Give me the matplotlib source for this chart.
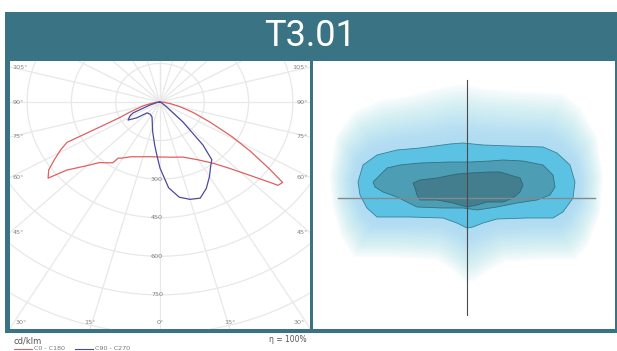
import numpy as np
import matplotlib
matplotlib.use('Agg')
import matplotlib.pyplot as plt
from matplotlib.patches import Rectangle, Polygon
from matplotlib.lines import Line2D

# ---------------- data ----------------
title = "T3.01"
unit_label = "cd/klm"
efficiency_label = "\u03b7 = 100%"
legend_labels = ["C0 - C180", "C90 - C270"]

# polar intensity curves (gamma in degrees, intensity in cd/klm)
c0_gamma = [0, 10, 20, 30, 37, 42, 47, 51, 53, 55, 58, 61, 65, 70, 75, 80, 85, 90]
c0_int = [214, 218, 228, 260, 298, 345, 420, 515, 520, 450, 360, 280, 190, 120, 70, 35, 15, 5]

c180_gamma = [0, 10, 18, 25, 31, 33, 34, 38, 41, 45, 50, 52, 55, 58, 61, 63.5, 64.5, 66, 69, 75, 80, 85, 90]
c180_int = [214, 216, 224, 235, 255, 260, 285, 300, 312, 350, 412, 481, 460, 421, 385, 352, 225, 150, 109, 60, 30, 12, 3]

c90_gamma = [0, 5, 10, 15, 20, 25, 30, 35, 38, 41, 45, 50, 55, 60, 90]
c90_int = [257, 335, 376, 392, 398, 371, 335, 300, 285, 222, 110, 30, 10, 3, 0]

c270_gamma = [0, 3, 6, 12, 25, 35, 46, 52, 57, 62, 65, 71, 80, 90]
c270_int = [257, 206, 170, 119, 64, 58, 61, 100, 129, 115, 101, 36, 10, 0]

radial_ticks = [300, 450, 600, 750]
edge_angles = [105, 90, 75, 60, 45]
bottom_angles = [-30, -15, 0, 15, 30]

# isolux contours (metres, x to the right, y up)
outer_x = [-10.9, -10.4, -9.0, -7.0, -4.7, -1.7, -0.4, 1.6, 4.3, 7.6, 9.0, 10.3, 10.8, 10.6, 9.6, 8.6,
           6.0, 3.0, 1.6, 0.6, 0.0, -1.0, -2.4, -5.7, -9.0, -10.0, -10.7]
outer_y = [1.6, 3.3, 4.3, 4.8, 5.0, 5.4, 5.5, 5.3, 5.2, 5.1, 4.5, 3.3, 1.6, 0.0, -1.4, -2.0,
           -2.0, -2.1, -2.5, -2.9, -3.0, -2.5, -2.0, -1.9, -1.9, -1.0, 0.3]
middle_x = [-9.4, -9.0, -8.0, -6.7, -4.7, -1.7, 0.3, 2.3, 3.6, 5.6, 7.6, 8.6, 8.8, 8.3, 7.0, 5.0,
            3.0, 1.0, -0.4, -2.4, -5.0, -6.0, -7.0, -8.4, -9.2]
middle_y = [1.6, 2.0, 3.0, 3.3, 3.5, 3.6, 3.6, 3.7, 3.8, 3.7, 3.3, 2.3, 1.1, 0.3, -0.2, -0.5,
            -0.9, -1.2, -1.0, -1.0, -0.9, -0.4, 0.1, 0.6, 1.1]
inner_x = [-5.4, -4.7, -3.0, -1.0, 0.3, 2.3, 3.3, 4.3, 5.3, 5.6, 5.3, 4.6, 3.6, 2.0, 1.0, 0.0,
           -1.4, -3.0, -4.7, -5.0, -5.2]
inner_y = [1.5, 1.8, 2.0, 2.4, 2.5, 2.6, 2.6, 2.3, 2.0, 1.3, 0.6, 0.0, -0.4, -0.4, -0.7, -0.9,
           -0.5, -0.2, -0.2, 0.3, 1.0]

# ---------------- figure ----------------
W, H = 617, 351
fig = plt.figure(figsize=(W / 100, H / 100), dpi=100)
fig.patch.set_facecolor('white')
TEAL = '#3a7484'


def px_rect(x0, y0, x1, y1):
    return [x0 / W, 1 - y1 / H, (x1 - x0) / W, (y1 - y0) / H]


fig.patches.append(Rectangle((5 / W, 1 - 333 / H), 612 / W, 321 / H,
                             transform=fig.transFigure, facecolor=TEAL, edgecolor='none', zorder=-10))
fig.text(310 / W, 1 - 36 / H, title, color='white', fontsize=26, family='Roboto',
         fontweight='normal', ha='center', va='center')

# ---------------- polar diagram ----------------
ax1 = fig.add_axes(px_rect(10, 61, 310, 329))
ax1.set_zorder(1)
ax1.set_facecolor('white')
XL, YB, YT = 508.0, -883.0, 159.5
ax1.set_xlim(-XL, XL)
ax1.set_ylim(YB, YT)
ax1.set_xticks([])
ax1.set_yticks([])
for s in ax1.spines.values():
    s.set_visible(False)

gcol = '#e8e8e8'
t = np.linspace(0, 2 * np.pi, 400)
for r in range(150, 1351, 150):
    ax1.plot(r * np.sin(t), r * np.cos(t), color=gcol, lw=0.9, zorder=1)
for a in range(-180, 181, 15):
    ar = np.radians(a)
    ax1.plot([0, 2000 * np.sin(ar)], [0, -2000 * np.cos(ar)], color=gcol, lw=0.9, zorder=1)


def polar_xy(gamma, inten, side):
    g = np.radians(np.asarray(gamma, float))
    i = np.asarray(inten, float)
    return side * i * np.sin(g), -i * np.cos(g)


xr, yr = polar_xy(c0_gamma, c0_int, 1)
xl, yl = polar_xy(c180_gamma, c180_int, -1)
ax1.plot(np.concatenate([xl[::-1], xr]), np.concatenate([yl[::-1], yr]), color='#e06060', lw=0.9, zorder=3)
xr, yr = polar_xy(c90_gamma, c90_int, 1)
xl, yl = polar_xy(c270_gamma, c270_int, -1)
ax1.plot(np.concatenate([xl[::-1], xr]), np.concatenate([yl[::-1], yr]), color='#4b4b9c', lw=0.9, zorder=4)

lcol = '#808080'
lfs = 4.6
for g in edge_angles:
    gr = np.radians(g)
    y = -XL * np.cos(gr) / np.sin(gr)
    ax1.text(-XL + 8, y, f"{g}\u00b0", fontsize=lfs, color=lcol, ha='left', va='center', zorder=5)
    ax1.text(XL - 8, y, f"{g}\u00b0", fontsize=lfs, color=lcol, ha='right', va='center', zorder=5)
for g in bottom_angles:
    x = -YB * np.tan(np.radians(g))
    x = np.clip(x, -XL + 38, XL - 38)
    ax1.text(x, YB + 16, f"{abs(g)}\u00b0", fontsize=lfs, color=lcol, ha='center', va='bottom', zorder=5)
for r in radial_ticks:
    ax1.text(-10, -r, str(r), fontsize=lfs, color=lcol, ha='center', va='center', zorder=5)

# ---------------- isolux diagram ----------------
ax2 = fig.add_axes(px_rect(313, 61, 615, 329))
ax2.set_zorder(1)
ax2.set_facecolor('white')
ax2.set_xlim(-15.4, 14.8)
ax2.set_ylim(-13.1, 13.7)
ax2.set_xticks([])
ax2.set_yticks([])
for s in ax2.spines.values():
    s.set_visible(False)

# soft halo around the outer isoline (wider vertically than horizontally)
ox = np.array(outer_x)
oy = np.array(outer_y)
cx, cy = ox.mean(), oy.mean()
n_halo = 40
for f in np.linspace(1.0, 0.0, n_halo):
    hx = cx + (ox - cx) * (1 + 0.26 * f)
    hy = cy + (oy - cy) * (1 + 1.35 * f)
    ax2.add_patch(Polygon(list(zip(hx, hy)), closed=True, facecolor='#9adcf2',
                          edgecolor='none', alpha=0.032, zorder=1))

ax2.add_patch(Polygon(list(zip(outer_x, outer_y)), closed=True, facecolor='#5cc2e4',
                      edgecolor='#3b7f92', lw=0.6, zorder=2))
ax2.add_patch(Polygon(list(zip(middle_x, middle_y)), closed=True, facecolor='#4d9db5',
                      edgecolor='#35707f', lw=0.6, zorder=3))
ax2.add_patch(Polygon(list(zip(inner_x, inner_y)), closed=True, facecolor='#437e8e',
                      edgecolor='#2f6675', lw=0.6, zorder=4))

ax2.plot([0, 0], [-11.7, 11.8], color='#4a4a4a', lw=0.8, zorder=6)
ax2.plot([-12.9, 12.8], [0, 0], color='#7f8c90', lw=1.0, zorder=5)

# ---------------- footer ----------------
fig.text(13 / W, 1 - 341 / H, unit_label, fontsize=6, color='#555555', ha='left', va='center')
fig.text(307 / W, 1 - 340 / H, efficiency_label, fontsize=5.5, color='#555555', ha='right', va='center')
ly = 1 - 348.5 / H
fig.add_artist(Line2D([14 / W, 32 / W], [ly, ly], color='#e06060', lw=0.8, transform=fig.transFigure))
fig.text(34 / W, ly, legend_labels[0], fontsize=4.6, color='#777777', ha='left', va='center')
fig.add_artist(Line2D([75 / W, 93 / W], [ly, ly], color='#4b4b9c', lw=0.8, transform=fig.transFigure))
fig.text(95 / W, ly, legend_labels[1], fontsize=4.6, color='#777777', ha='left', va='center')

fig.savefig('out.png', dpi=100, facecolor='white')
